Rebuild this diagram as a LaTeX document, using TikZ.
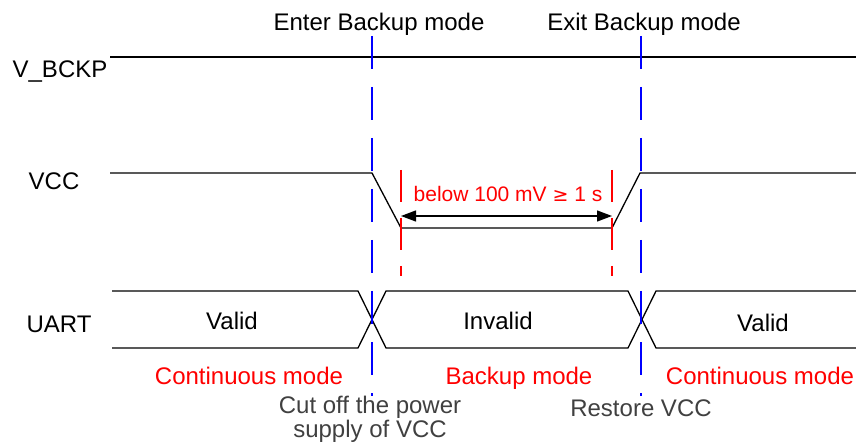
\documentclass[tikz,border=0pt]{standalone}
\usepackage{fontspec}
\setmainfont{Liberation Sans}
\usetikzlibrary{arrows.meta}
\definecolor{txtgray}{HTML}{404040}
\definecolor{mblue}{HTML}{0000FF}
\definecolor{mred}{HTML}{FF0000}
\begin{document}
\begin{tikzpicture}[x=1pt,y=-1pt,
  every node/.style={font=\fontsize{24}{27}\selectfont, inner sep=0pt},
  sig/.style={line width=1.3pt, black, line join=miter},
  bluedash/.style={line width=2pt, mblue, dash pattern=on 33pt off 18pt},
  reddash/.style={line width=2pt, mred, dash pattern=on 32pt off 16pt},
  lbl/.style={anchor=base},
  redlbl/.style={anchor=base, text=mred},
  graylbl/.style={anchor=base, text=txtgray, align=center},
  dimarrow/.style={line width=1.3pt, {Triangle[length=15pt,width=11pt]}-{Triangle[length=15pt,width=11pt]}}
]
\useasboundingbox (0,0) rectangle (856,443);

% labels
\node[lbl] (enter) at (379,31) {Enter Backup mode};
\node[lbl] (exit) at (644,31) {Exit Backup mode};
\node[lbl] (vbckp) at (60,78) {V\_BCKP};
\node[lbl] (vcc) at (54,190) {VCC};
\node[lbl] (uart) at (59,332) {UART};
\node[lbl] (valid1) at (232,330) {Valid};
\node[lbl] (invalid) at (498,330) {Invalid};
\node[lbl] (valid2) at (763,331) {Valid};
\node[redlbl] (cm1) at (249,384) {Continuous mode};
\node[redlbl] (bm) at (519,384) {Backup mode};
\node[redlbl] (cm2) at (760,384) {Continuous mode};
\node[graylbl, font=\fontsize{24}{21}\selectfont] (cut) at (370,437) {Cut off the power\\supply of VCC};
\node[graylbl] (restore) at (641,416) {Restore VCC};
\node[text=mred, anchor=base, font=\fontsize{21}{25}\selectfont] (below) at (508,202) {below 100 mV \fontspec{DejaVu Sans}\fontsize{19}{25}\selectfont≥\fontspec{Liberation Sans}\fontsize{21}{25}\selectfont{} 1 s};

% V_BCKP
\coordinate (vb0) at (110,57);
\coordinate (vb1) at (856,57);
\draw[sig] (vb0) -- (vb1);

% VCC
\coordinate (v0) at (110,173);
\coordinate (v1) at (372,173);
\coordinate (v2) at (401,228);
\coordinate (v3) at (612,228);
\coordinate (v4) at (640,173);
\coordinate (v5) at (856,173);
\draw[sig] (v0) -- (v1) -- (v2) -- (v3) -- (v4) -- (v5);

% UART bus
\coordinate (ua0) at (112,291);
\coordinate (ua1) at (358,291);
\coordinate (ua2) at (386,348);
\coordinate (ua3) at (628,348);
\coordinate (ua4) at (656,291);
\coordinate (ua5) at (856,291);
\coordinate (ub0) at (112,348);
\coordinate (ub1) at (358,348);
\coordinate (ub2) at (386,291);
\coordinate (ub3) at (628,291);
\coordinate (ub4) at (656,348);
\coordinate (ub5) at (856,348);
\draw[sig] (ua0) -- (ua1) -- (ua2) -- (ua3) -- (ua4) -- (ua5);
\draw[sig] (ub0) -- (ub1) -- (ub2) -- (ub3) -- (ub4) -- (ub5);

% blue dashed markers
\coordinate (b1t) at (372,36);
\coordinate (b1b) at (372,396);
\coordinate (b2t) at (641,36);
\coordinate (b2b) at (641,396);
\draw[bluedash] (b1t) -- (b1b);
\draw[bluedash] (b2t) -- (b2b);

% red dashed markers
\coordinate (r1t) at (401,170);
\coordinate (r1b) at (401,276);
\coordinate (r2t) at (612,170);
\coordinate (r2b) at (612,276);
\draw[reddash] (r1t) -- (r1b);
\draw[reddash] (r2t) -- (r2b);

% dimension arrow
\coordinate (a1) at (401,216);
\coordinate (a2) at (612,216);
\draw[dimarrow] (a1) -- (a2);
\end{tikzpicture}
\end{document}
